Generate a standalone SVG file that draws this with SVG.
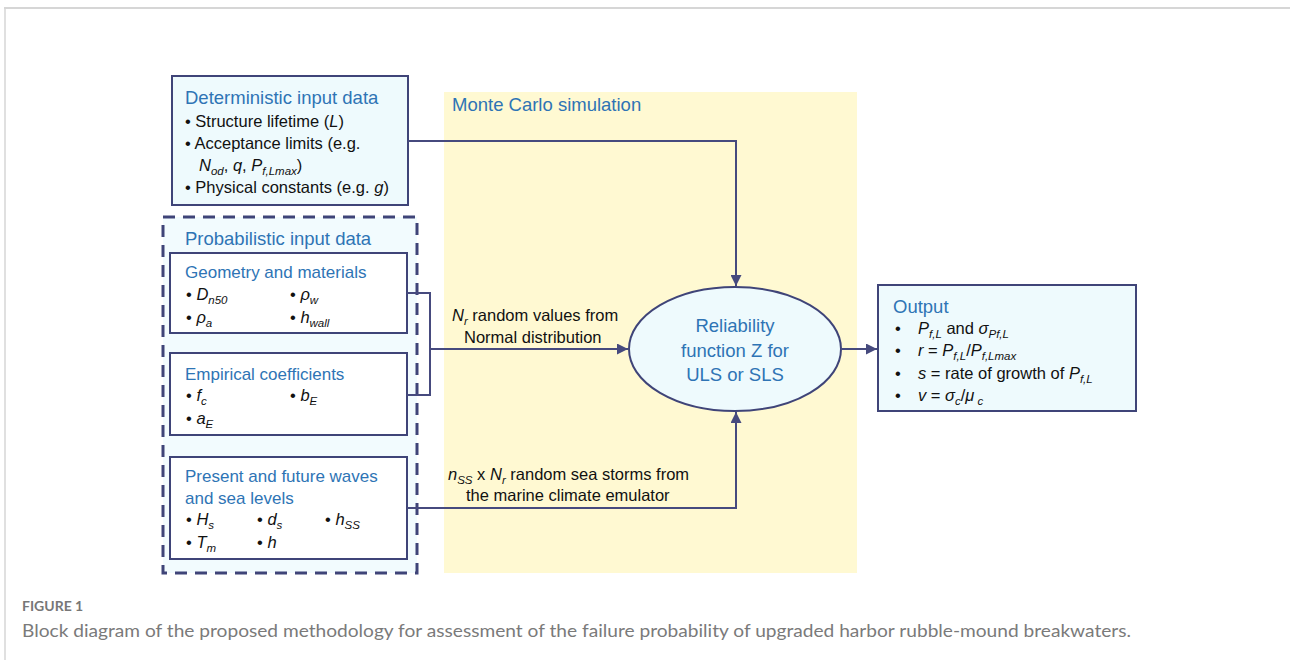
<svg xmlns="http://www.w3.org/2000/svg" width="1290" height="666" viewBox="0 0 1290 666">
<defs>
<marker id="arr" viewBox="0 0 10 10" refX="10" refY="5" markerWidth="11" markerHeight="11" markerUnits="userSpaceOnUse" orient="auto">
<path d="M0,0 L10,5 L0,10 z" fill="#464a7e"/>
</marker>
</defs>
<style>
text{font-family:"Liberation Sans",Arial,sans-serif;}
.t{font-size:17px;fill:#2e74b5;}
.T{font-size:18.5px;fill:#2e74b5;}
.b{font-size:16.5px;fill:#111;}
.i{font-style:italic;}
.s{font-size:11.5px;font-style:italic;}
.box{fill:#eefafd;stroke:#3f4478;stroke-width:2;}
.sub{fill:#ffffff;stroke:#3f4478;stroke-width:2;}
.ln{fill:none;stroke:#464a7e;stroke-width:2;}
.cap1{font-family:"Lato","Open Sans",sans-serif;font-size:14px;font-weight:bold;fill:#777;}
.cap2{font-family:"Lato","Open Sans",sans-serif;font-size:17px;fill:#7a7a7a;}
</style>
<rect width="1290" height="666" fill="#fff"/>
<g id="frame">
<line x1="4" y1="8" x2="1290" y2="8" stroke="#d6d6d6" stroke-width="2"/>
<line x1="5" y1="8" x2="5" y2="660" stroke="#d6d6d6" stroke-width="1.5"/>
</g>
<g id="montecarlo">
<rect x="444" y="92" width="413" height="481" fill="#fff9d2"/>
<text class="T" x="452" y="111">Monte Carlo simulation</text>
</g>
<g id="deterministic">
<rect class="box" x="172" y="76" width="236" height="129"/>
<text class="T" x="185" y="104">Deterministic input data</text>
<text class="b" x="185" y="127">•  Structure lifetime  (<tspan class="i">L</tspan>)</text>
<text class="b" x="185" y="149">•  Acceptance limits (e.g.</text>
<text class="b" x="199" y="171"><tspan class="i">N</tspan><tspan class="s" dy="4">od</tspan><tspan dy="-4">, </tspan><tspan class="i">q</tspan>, <tspan class="i">P</tspan><tspan class="s" dy="4">f,Lmax</tspan><tspan dy="-4">)</tspan></text>
<text class="b" x="185" y="193">•  Physical constants (e.g. <tspan class="i">g</tspan>)</text>
</g>
<g id="probabilistic">
<rect x="163" y="217" width="254" height="356" fill="#f2fbfe" stroke="#3f4478" stroke-width="3" stroke-dasharray="12,8"/>
<text class="T" x="185" y="245">Probabilistic input data</text>
</g>
<g id="geometry">
<rect class="sub" x="170" y="253" width="237" height="80"/>
<text class="t" x="185" y="278">Geometry and materials</text>
<text class="b" x="186" y="300">•  <tspan class="i">D</tspan><tspan class="s" dy="4">n50</tspan></text>
<text class="b" x="290" y="300">•  <tspan class="i">ρ</tspan><tspan class="s" dy="4">w</tspan></text>
<text class="b" x="186" y="323">•  <tspan class="i">ρ</tspan><tspan class="s" dy="4">a</tspan></text>
<text class="b" x="290" y="323">•  <tspan class="i">h</tspan><tspan class="s" dy="4">wall</tspan></text>
</g>
<g id="empirical">
<rect class="sub" x="170" y="353" width="237" height="82"/>
<text class="t" x="185" y="380">Empirical coefficients</text>
<text class="b" x="186" y="401">•  <tspan class="i">f</tspan><tspan class="s" dy="4">c</tspan></text>
<text class="b" x="290" y="401">•  <tspan class="i">b</tspan><tspan class="s" dy="4">E</tspan></text>
<text class="b" x="186" y="424">•  <tspan class="i">a</tspan><tspan class="s" dy="4">E</tspan></text>
</g>
<g id="waves">
<rect class="sub" x="170" y="457" width="237" height="102"/>
<text class="t" x="185" y="482">Present and future waves</text>
<text class="t" x="185" y="504">and sea levels</text>
<text class="b" x="186" y="525">•  <tspan class="i">H</tspan><tspan class="s" dy="4">s</tspan></text>
<text class="b" x="257" y="525">•  <tspan class="i">d</tspan><tspan class="s" dy="4">s</tspan></text>
<text class="b" x="325" y="525">•  <tspan class="i">h</tspan><tspan class="s" dy="4">SS</tspan></text>
<text class="b" x="186" y="548">•  <tspan class="i">T</tspan><tspan class="s" dy="4">m</tspan></text>
<text class="b" x="257" y="548">•  <tspan class="i">h</tspan></text>
</g>
<g id="reliability">
<ellipse cx="735" cy="349" rx="106" ry="62" fill="#eefafd" stroke="#3f4478" stroke-width="2"/>
<text class="T" x="735" y="332" text-anchor="middle">Reliability</text>
<text class="T" x="735" y="357" text-anchor="middle">function Z for</text>
<text class="T" x="735" y="381" text-anchor="middle">ULS or SLS</text>
</g>
<g id="output">
<rect class="box" x="878" y="285" width="258" height="126"/>
<text class="T" x="893" y="313">Output</text>
<text class="b" x="895" y="334">•</text>
<text class="b" x="918" y="334"><tspan class="i">P</tspan><tspan class="s" dy="4">f,L</tspan><tspan dy="-4"> and </tspan><tspan class="i">σ</tspan><tspan class="s" dy="4">Pf,L</tspan></text>
<text class="b" x="895" y="356">•</text>
<text class="b" x="918" y="356"><tspan class="i">r</tspan> = <tspan class="i">P</tspan><tspan class="s" dy="4">f,L</tspan><tspan dy="-4">/</tspan><tspan class="i">P</tspan><tspan class="s" dy="4">f,Lmax</tspan></text>
<text class="b" x="895" y="379">•</text>
<text class="b" x="918" y="379"><tspan class="i">s</tspan> = rate of growth of <tspan class="i">P</tspan><tspan class="s" dy="4">f,L</tspan></text>
<text class="b" x="895" y="401">•</text>
<text class="b" x="918" y="401"><tspan class="i">v</tspan> = <tspan class="i">σ</tspan><tspan class="s" dy="4">c</tspan><tspan dy="-4">/</tspan><tspan class="i">μ</tspan><tspan class="s" dy="4"> c</tspan></text>
</g>
<g id="connectors">
<polyline class="ln" points="408,141 736,141 736,286" marker-end="url(#arr)"/>
<polyline class="ln" points="407,293 430,293 430,395 407,395"/>
<line class="ln" x1="430" y1="349" x2="628" y2="349" marker-end="url(#arr)"/>
<polyline class="ln" points="407,508 736,508 736,412" marker-end="url(#arr)"/>
<line class="ln" x1="841" y1="349" x2="877" y2="349" marker-end="url(#arr)"/>
<text class="b" x="452" y="321"><tspan class="i">N</tspan><tspan class="s" dy="4">r</tspan><tspan dy="-4"> random values from</tspan></text>
<text class="b" x="464" y="343">Normal distribution</text>
<text class="b" x="448" y="480"><tspan class="i">n</tspan><tspan class="s" dy="4">SS</tspan><tspan dy="-4"> x </tspan><tspan class="i">N</tspan><tspan class="s" dy="4">r</tspan><tspan dy="-4"> random sea storms from</tspan></text>
<text class="b" x="466" y="501">the marine climate emulator</text>
</g>
<g id="caption">
<text class="cap1" x="22" y="611">FIGURE 1</text>
<text class="cap2" x="22" y="637" textLength="1109" lengthAdjust="spacingAndGlyphs">Block diagram of the proposed methodology for assessment of the failure probability of upgraded harbor rubble-mound breakwaters.</text>
</g>
</svg>
